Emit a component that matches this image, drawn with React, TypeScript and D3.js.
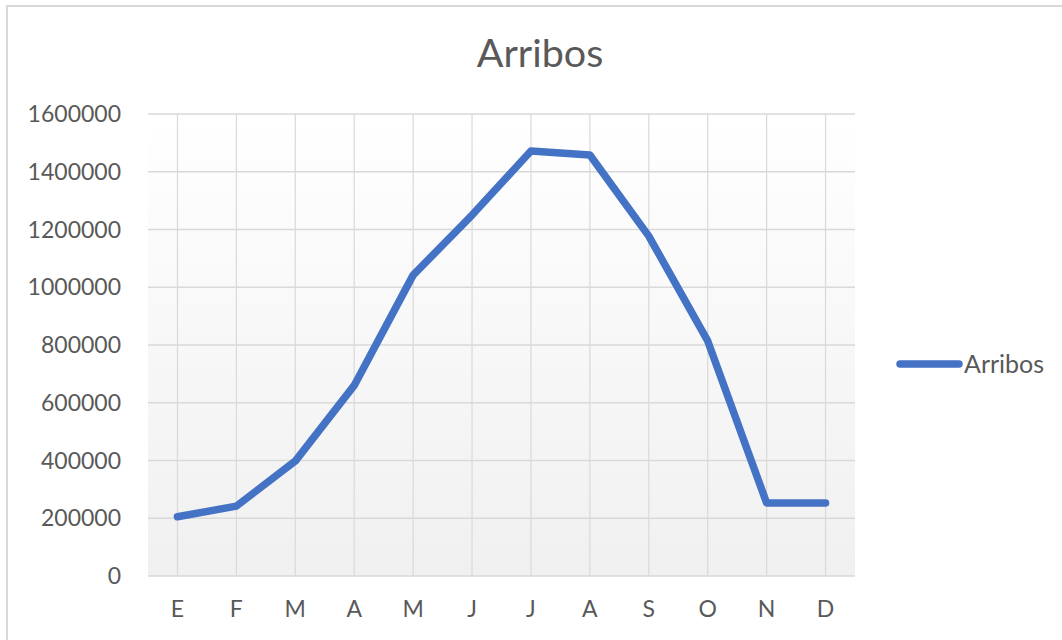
import React from "react";
import * as d3 from "d3";

const months = ["E", "F", "M", "A", "M", "J", "J", "A", "S", "O", "N", "D"];
const arribos = [205000, 242000, 398000, 660000, 1042000, 1250000, 1472000, 1458000, 1177000, 814000, 253000, 253000];
const yTicks = [0, 200000, 400000, 600000, 800000, 1000000, 1200000, 1400000, 1600000];
const seriesName = "Arribos";
const titleText = "Arribos";

const W = 1062;
const H = 640;
const plot = { left: 148, right: 855, top: 114, bottom: 576 };
const FONT = "Lato, 'Open Sans', sans-serif";
const TEXT = "#595959";
const GRID = "#d9d9d9";
const BLUE = "#4472C4";

export default function App() {
  const idx = months.map((_, i) => String(i));
  const x = d3.scaleBand<string>().domain(idx).range([plot.left, plot.right]).padding(0);
  const y = d3.scaleLinear().domain([0, 1600000]).range([plot.bottom, plot.top]);
  const cx = (i: number) => (x(String(i)) as number) + x.bandwidth() / 2;
  const line = d3
    .line<number>()
    .x((_, i) => cx(i))
    .y((d) => y(d));

  return (
    <svg
      width={W}
      height={H}
      style={{ position: "absolute", left: 0, top: 0, background: "#fff" }}
    >
      <defs>
        <linearGradient id="bg" x1="0" y1="0" x2="0" y2="1">
          <stop offset="0" stopColor="#ffffff" />
          <stop offset="1" stopColor="#f0f0f0" />
        </linearGradient>
      </defs>
      {/* chart frame */}
      <path d={`M7,${H} L7,6 L${W},6`} fill="none" stroke="#d9d9d9" strokeWidth={2} />

      <rect
        x={plot.left}
        y={plot.top}
        width={plot.right - plot.left}
        height={plot.bottom - plot.top}
        fill="url(#bg)"
      />
      {yTicks.map((t) => (
        <g key={t}>
          <line x1={plot.left} x2={plot.right} y1={y(t)} y2={y(t)} stroke={GRID} strokeWidth={1.5} />
          <text
            x={121}
            y={y(t)}
            dy="0.35em"
            textAnchor="end"
            fontFamily={FONT}
            fontSize={23}
            fill={TEXT}
          >
            {t}
          </text>
        </g>
      ))}
      {months.map((m, i) => (
        <g key={i}>
          <line x1={cx(i)} x2={cx(i)} y1={plot.top} y2={plot.bottom} stroke={GRID} strokeWidth={1.2} />
          <text
            x={cx(i)}
            y={617}
            textAnchor="middle"
            fontFamily={FONT}
            fontSize={23}
            fill={TEXT}
          >
            {m}
          </text>
        </g>
      ))}
      <path
        d={line(arribos) as string}
        fill="none"
        stroke={BLUE}
        strokeWidth={7.5}
        strokeLinejoin="round"
        strokeLinecap="round"
      />
      <text
        x={540}
        y={67}
        textAnchor="middle"
        fontFamily={FONT}
        fontSize={39.5}
        fill={TEXT}
      >
        {titleText}
      </text>
      <line x1={900} x2={959} y1={364} y2={364} stroke={BLUE} strokeWidth={7.5} strokeLinecap="round" />
      <text x={964} y={364} dy="0.35em" fontFamily={FONT} fontSize={25} fill={TEXT}>
        {seriesName}
      </text>
    </svg>
  );
}
